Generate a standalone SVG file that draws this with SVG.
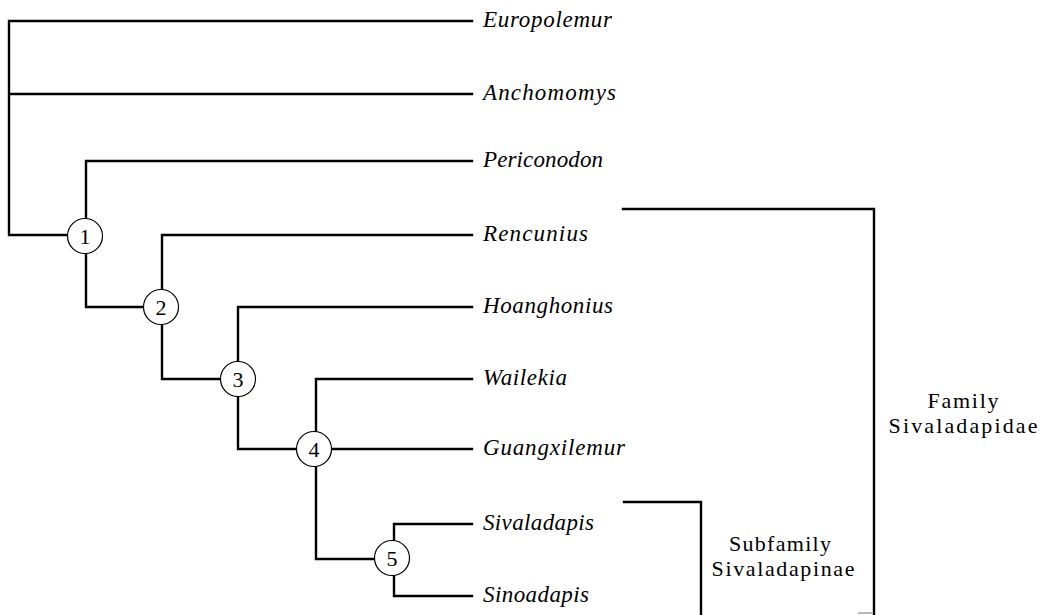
<svg xmlns="http://www.w3.org/2000/svg" width="1049" height="615" viewBox="0 0 1049 615">
<style>
.ln{fill:none;stroke:#000;stroke-width:2.4;stroke-linecap:square}
.nd{fill:#fff;stroke:#000;stroke-width:1.2}
.num{font-family:"Liberation Serif","Times New Roman",serif;font-size:22px;text-anchor:middle;fill:#000}
.tx{font-family:"Liberation Serif","Times New Roman",serif;font-style:italic;font-size:23px;fill:#000}
.grp{font-family:"Liberation Serif","Times New Roman",serif;font-size:22px;text-anchor:middle;fill:#000}
</style>
<rect width="1049" height="615" fill="#fff"/>
<g id="connectors">
<path class="ln" d="M9,21 V235 H80 M9,21 H472 M9,94 H472"/>
<path class="ln" d="M86,161 V236 M86,161 H472 M86,236 V307 H161"/>
<path class="ln" d="M162,235 V307 M162,235 H472 M162,307 V379 H238"/>
<path class="ln" d="M238,307 V379 M238,307 H472 M238,379 V449 H315"/>
<path class="ln" d="M316,379 V449 M316,379 H472 M315,449 H472 M316,449 V559 H393"/>
<path class="ln" d="M394,524 V596 M394,524 H472 M394,596 H472"/>
</g>
<g id="node1"><circle class="nd" cx="85" cy="236" r="17.5"/><text class="num" x="85" y="244">1</text></g>
<g id="node2"><circle class="nd" cx="161" cy="307" r="17.5"/><text class="num" x="161" y="315">2</text></g>
<g id="node3"><circle class="nd" cx="238" cy="379" r="17.5"/><text class="num" x="238" y="387">3</text></g>
<g id="node4"><circle class="nd" cx="314" cy="449" r="17.5"/><text class="num" x="314" y="457">4</text></g>
<g id="node5"><circle class="nd" cx="392" cy="558" r="17.5"/><text class="num" x="392" y="566">5</text></g>
<g id="taxon-europolemur"><text class="tx" x="483" y="27" textLength="129">Europolemur</text></g>
<g id="taxon-anchomomys"><text class="tx" x="483" y="100" textLength="133">Anchomomys</text></g>
<g id="taxon-periconodon"><text class="tx" x="483" y="167" textLength="120">Periconodon</text></g>
<g id="taxon-rencunius"><text class="tx" x="483" y="241" textLength="105">Rencunius</text></g>
<g id="taxon-hoanghonius"><text class="tx" x="483" y="313" textLength="130">Hoanghonius</text></g>
<g id="taxon-wailekia"><text class="tx" x="483" y="385" textLength="84">Wailekia</text></g>
<g id="taxon-guangxilemur"><text class="tx" x="483" y="455" textLength="142">Guangxilemur</text></g>
<g id="taxon-sivaladapis"><text class="tx" x="483" y="530" textLength="111">Sivaladapis</text></g>
<g id="taxon-sinoadapis"><text class="tx" x="483" y="602" textLength="106">Sinoadapis</text></g>
<g id="bracket-family">
<path class="ln" d="M623,209 H874 V618"/>
<path d="M858,613 H872" stroke="#888" stroke-width="1.2" fill="none"/>
<text class="grp" x="963" y="408" textLength="71">Family</text>
<text class="grp" x="963" y="433" textLength="149">Sivaladapidae</text>
</g>
<g id="bracket-subfamily">
<path class="ln" d="M624,502 H701 V618"/>
<text class="grp" x="780" y="551" textLength="102">Subfamily</text>
<text class="grp" x="783" y="576" textLength="143">Sivaladapinae</text>
</g>
</svg>
